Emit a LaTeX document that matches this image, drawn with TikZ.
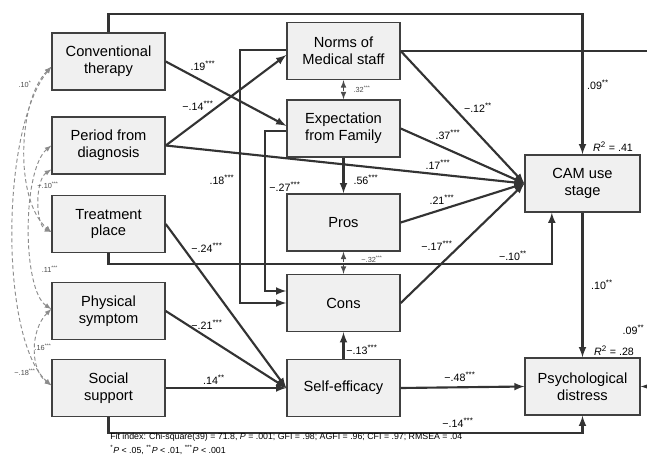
\documentclass[tikz,border=0pt]{standalone}
\usepackage{fontspec}
\setmainfont{Liberation Sans}
\usetikzlibrary{arrows, calc}
\newcommand{\sig}[1]{\textsuperscript{#1}}
\tikzset{
    box/.style={draw=black!75, line width=1.1pt, fill=black!6, minimum width=84.75pt,
        minimum height=42.75pt, align=center, inner sep=1pt,
        font=\fontsize{11}{12.5}\selectfont},
    link/.style={draw=black!80, line width=1.6pt, -latex},
    dlink/.style={draw=black!70, line width=0.9pt, densely dashed, latex-latex},
    corr/.style={draw=black!45, line width=0.7pt, densely dashed, latex-latex},
    coef/.style={inner sep=1pt, font=\fontsize{8}{9}\selectfont},
    scoef/.style={inner sep=1pt, text=black!70, font=\fontsize{5.5}{6}\selectfont}
}
\begin{document}
\begin{tikzpicture}[x=0.75pt, y=-0.75pt]
    \def\XA{108.5}
    \def\XB{343.5}
    \def\XC{582.5}
    \fill[white] (0,0) rectangle (647,464);
    \useasboundingbox (0,0) rectangle (647,464);

    \node[box] (conv) at (\XA,61.5) {Conventional\\therapy};
    \node[box] (period) at (\XA,145.5) {Period from\\diagnosis};
    \node[box] (treat) at (\XA,224) {Treatment\\place};
    \node[box] (phys) at (\XA,311) {Physical\\symptom};
    \node[box] (social) at (\XA,388) {Social\\support};

    \node[box] (norms) at (\XB,51) {Norms of\\Medical staff};
    \node[box] (expect) at (\XB,128.5) {Expectation\\from Family};
    \node[box] (pros) at (\XB,222.5) {Pros};
    \node[box] (cons) at (\XB,303) {Cons};
    \node[box] (self) at (\XB,388) {Self-efficacy};

    \node[box, minimum width=86pt] (cam) at (\XC,183.5) {CAM use\\stage};
    \node[box, minimum width=86pt] (pd) at (\XC,386.5) {Psychological\\distress};

    \coordinate (edge) at (655,51);

    \draw[link] (conv.north) -- ++(0,-18) -| (cam.north);
    \draw[link] (norms.east) -- (edge) |- (pd.east);
    \draw[link] (conv.east) -- ([yshift=2pt]expect.west);
    \draw[link] (period.east) -- ([yshift=-3pt]norms.west);
    \draw[link] (period.east) -- (cam.west);
    \draw[link] ([yshift=1pt]norms.west) -- ++(-46,0) |- (cons.west);
    \draw[link] ([yshift=-2pt]expect.west) -- ++(-21,0) |- ([yshift=9pt]cons.west);
    \draw[link] (expect.south) -- (pros.north);
    \draw[link] (norms.east) -- (cam.west);
    \draw[link] (expect.east) -- (cam.west);
    \draw[link] (pros.east) -- (cam.west);
    \draw[link] (cons.east) -- (cam.west);
    \draw[link] (treat.south) -- ++(0,11) -| ([xshift=-23pt]cam.south);
    \draw[link] (treat.east) -- (self.west);
    \draw[link] (phys.east) -- (self.west);
    \draw[link] (social.east) -- (self.west);
    \draw[link] (self.north) -- (cons.south);
    \draw[link] (self.east) -- (pd.west);
    \draw[link] (social.south) -- ++(0,16) -| (pd.south);
    \draw[link] (cam.south) -- (pd.north);
    \draw[dlink] (norms.south) -- (expect.north);
    \draw[dlink] (pros.south) -- (cons.north);

    \draw[corr] ([yshift=-4pt]conv.west) .. controls (18,100) and (14,200) .. ([yshift=-6pt]treat.west);
    \draw[corr] ([yshift=-4pt]conv.west) .. controls (0,130) and (0,340) .. ([yshift=2pt]social.west);
    \draw[corr] (period.west) .. controls (22,170) and (22,290) .. ([yshift=1.5pt]phys.west);
    \draw[corr] ([yshift=-18pt]period.west) .. controls (35,180) and (35,225) .. ([yshift=-6pt]treat.west);
    \draw[corr] ([yshift=1.5pt]phys.west) .. controls (30,330) and (30,370) .. ([yshift=2pt]social.west);

    \foreach \x/\y/\t [count=\i] in {598/85/{.09\sig{**}},
            203/66/{.19\sig{***}}, 198/106/{−.14\sig{***}}, 222/180/{.18\sig{***}},
            285/187/{−.27\sig{***}}, 366/180/{.56\sig{***}}, 478/108/{−.12\sig{**}},
            448/135/{.37\sig{***}}, 438/165/{.17\sig{***}}, 442/200/{.21\sig{***}},
            437/246/{−.17\sig{***}}, 513/256/{−.10\sig{**}}, 207/248/{−.24\sig{***}},
            207/325/{−.21\sig{***}}, 214/380/{.14\sig{**}}, 362/350/{−.13\sig{***}},
            460/377/{−.48\sig{***}}, 458/423/{−.14\sig{***}}, 602/285/{.10\sig{**}},
            613/147/{\textit{R}\sig{2} = .41}, 614/351/{\textit{R}\sig{2} = .28}}{
        \node[coef] (c\i) at (\x,\y) {\t};
    }
    \node[coef, anchor=east] (cedge) at (646,330) {.09\sig{**}};
    \foreach \x/\y/\t [count=\i] in {362/89/{.32\sig{***}}, 372/259/{−.32\sig{***}},
            25/84/{.10\sig{*}}, 48/185/{−.10\sig{***}}, 50/269/{.11\sig{***}},
            43/347/{.16\sig{***}}, 25/372/{−.18\sig{***}}}{
        \node[scoef] (s\i) at (\x,\y) {\t};
    }

    \node[anchor=west, align=left, inner sep=0pt, font=\fontsize{6.6}{10.5}\selectfont] (fit) at (110,444)
        {Fit index: Chi-square(39) = 71.8, \textit{P} = .001; GFI = .98; AGFI = .96; CFI = .97; RMSEA = .04\\
         \sig{*}\textit{P} < .05, \sig{**}\textit{P} < .01, \sig{***}\textit{P} < .001};
\end{tikzpicture}
\end{document}
